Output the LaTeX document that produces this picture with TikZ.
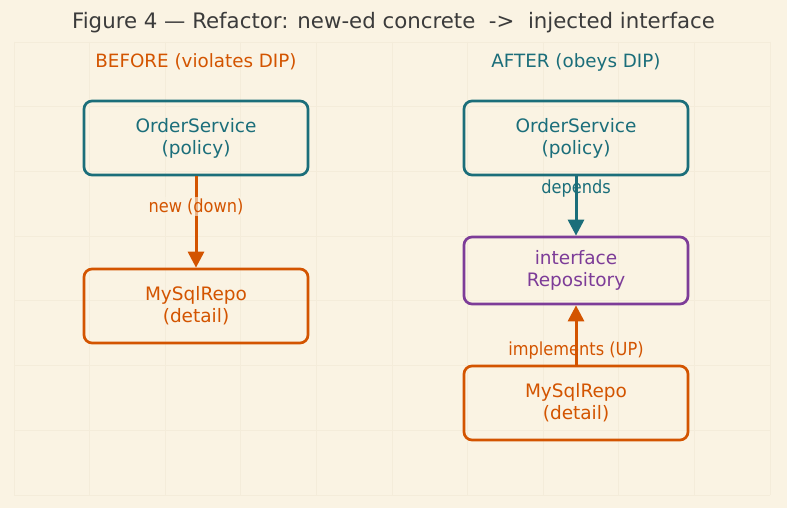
\documentclass[tikz,border=0pt]{standalone}
\usepackage{fontspec}
\setmainfont{DejaVu Sans}
\newfontfamily\condensed{DejaVu Sans Condensed}
\usetikzlibrary{arrows.meta}

\definecolor{paper}{HTML}{FAF3E3}
\definecolor{gridline}{HTML}{F4ECDA}
\definecolor{ink}{HTML}{3B3B3B}
\definecolor{policy}{HTML}{1B6E7A}
\definecolor{detail}{HTML}{D35400}
\definecolor{abstract}{HTML}{7D3C98}

\tikzset{
  box/.style={draw, line width=2.7pt, rounded corners=8pt, minimum width=224pt,
    minimum height=74pt, align=center, font=\fontsize{18.5}{22}\selectfont},
  dep/.style={line width=3pt, -{Triangle[length=16pt,width=16pt]}},
  tag/.style={font=\condensed\fontsize{18}{20}\selectfont},
}

\begin{document}
\begin{tikzpicture}[x=1pt, y=-1pt]
  \useasboundingbox[fill=paper] (0,0) rectangle (787,508);

  % faint grid
  \foreach \gx in {0,...,10}
    \draw[gridline, line width=0.8pt] (14+75.6*\gx, 42) -- (14+75.6*\gx, 495);
  \foreach \gy in {0,...,7}
    \draw[gridline, line width=0.8pt] (14, 42+64.7*\gy) -- (770, 42+64.7*\gy);

  \node[ink, font=\fontsize{21.3}{24}\selectfont] (title) at (393.5, 23)
    {Figure 4 — Refactor: new-ed concrete \ -> \ injected interface};

  % before
  \node[detail, font=\fontsize{18.3}{21}\selectfont] (before) at (196, 62) {BEFORE (violates DIP)};
  \node[box, policy] (svcA) at (196, 138) {OrderService\\(policy)};
  \node[box, detail] (repoA) at (196, 306) {MySqlRepo\\(detail)};
  \draw[dep, detail] (svcA) -- (repoA) node[tag, pos=0.33, fill=paper, fill opacity=0.6, text opacity=1, inner sep=1pt]{new (down)};

  % after
  \node[policy, font=\fontsize{18.3}{21}\selectfont] (after) at (576, 62) {AFTER (obeys DIP)};
  \node[box, policy] (svcB) at (576, 138) {OrderService\\(policy)};
  \node[box, abstract, minimum height=67pt] (iface) at (576, 270.5) {interface\\Repository};
  \node[box, detail] (repoB) at (576, 403) {MySqlRepo\\(detail)};
  \draw[dep, policy] (svcB) -- (iface);
  \node[tag, policy] (lblB) at (576, 189) {depends};
  \draw[dep, detail] (repoB) -- (iface);
  \node[tag, detail] (lblC) at (576, 351) {implements (UP)};
\end{tikzpicture}
\end{document}
